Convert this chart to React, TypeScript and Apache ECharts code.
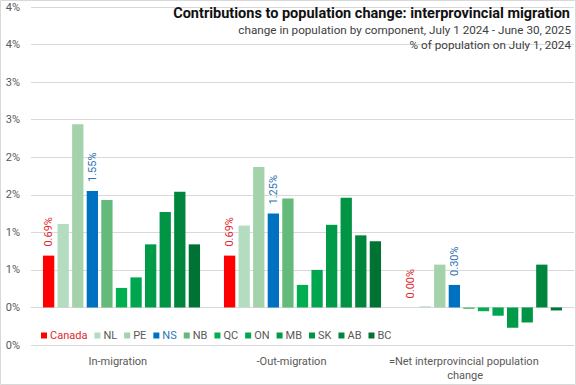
import React, { useEffect, useRef } from "react";
import * as echarts from "echarts";

const categories = ["In-migration", "-Out-migration", "=Net interprovincial population change"];
const seriesNames = ["Canada", "NL", "PE", "NS", "NB", "QC", "ON", "MB", "SK", "AB", "BC"];
const canada = [0.69, 0.69, 0.0];
const nl = [1.11, 1.09, 0.015];
const pe = [2.44, 1.87, 0.57];
const ns = [1.55, 1.25, 0.3];
const nb = [1.43, 1.45, -0.02];
const qc = [0.26, 0.3, -0.05];
const on = [0.4, 0.5, -0.11];
const mb = [0.84, 1.1, -0.27];
const sk = [1.27, 1.46, -0.2];
const ab = [1.54, 0.96, 0.57];
const bc = [0.84, 0.88, -0.04];
const seriesValues = [canada, nl, pe, ns, nb, qc, on, mb, sk, ab, bc];
const seriesColors = ["#FF0000", "#B4DCC0", "#A3D2AB", "#0070C0", "#63BA7A", "#00B050", "#00A64F", "#009B48", "#009444", "#00863C", "#007334"];
const labelledSeries = ["Canada", "NS"];
const labelColors: Record<string, string> = { Canada: "#E0282E", NS: "#2E74B5" };
const yTickValues = [-0.5, 0, 0.5, 1, 1.5, 2, 2.5, 3, 3.5, 4];
const yTickLabels = ["0%", "0%", "1%", "1%", "2%", "2%", "3%", "3%", "4%", "4%"];
const titleText = "Contributions to population change: interprovincial migration";
const subtitle1 = "change in population by component, July 1 2024 - June 30, 2025";
const subtitle2 = "% of population on July 1, 2024";

const FONT = "Roboto";

export default function App() {
  const ref = useRef<HTMLDivElement>(null);
  useEffect(() => {
    document.body.style.margin = "0";
    if (!ref.current) return;
    const chart = echarts.init(ref.current, null, { renderer: "svg" });
    const series = seriesNames.map((name, i) => ({
      name,
      type: "bar",
      xAxisIndex: 0,
      yAxisIndex: 0,
      data: seriesValues[i],
      barWidth: 11.3,
      barGap: "29%",
      itemStyle: { color: seriesColors[i] },
      label: labelledSeries.includes(name)
        ? {
            show: true,
            position: "top",
            rotate: 90,
            align: "left",
            verticalAlign: "middle",
            distance: 9,
            color: labelColors[name],
            fontFamily: FONT,
            fontSize: 11,
            formatter: (p: any) => Number(p.value).toFixed(2) + "%",
          }
        : { show: false },
    }));
    chart.setOption({
      animation: false,
      backgroundColor: "#fff",
      textStyle: { fontFamily: FONT },
      title: [
        { text: titleText, right: 6, top: 6, padding: 0, textStyle: { fontFamily: FONT, fontSize: 14.5, fontWeight: "bold", color: "#111" } },
        { text: subtitle1, right: 5, top: 24, padding: 0, textStyle: { fontFamily: FONT, fontSize: 11.7, fontWeight: "normal", color: "#404040" } },
        { text: subtitle2, right: 5, top: 39, padding: 0, textStyle: { fontFamily: FONT, fontSize: 11.7, fontWeight: "normal", color: "#404040" } },
      ],
      legend: {
        data: seriesNames.map((n) => ({
          name: n,
          textStyle: { color: labelColors[n] || "#595959" },
        })),
        left: 41,
        top: 330,
        icon: "rect",
        itemWidth: 6,
        itemHeight: 6,
        itemGap: 7,
        padding: 0,
        textStyle: { fontFamily: FONT, fontSize: 11, color: "#595959", padding: [0, 0, 0, -2] },
      },
      grid: [
        { left: 31, right: 2, top: 7, bottom: 40 },
        { left: 31, right: 24, top: 7, bottom: 40 },
      ],
      xAxis: [
        {
          type: "category",
          gridIndex: 0,
          data: categories,
          axisLine: { onZero: true, lineStyle: { color: "#d9d9d9" } },
          axisTick: { show: false },
          axisLabel: { show: false },
        },
        {
          type: "category",
          gridIndex: 1,
          data: categories,
          position: "bottom",
          axisLine: { show: false },
          axisTick: { show: false },
          axisLabel: {
            fontFamily: FONT,
            fontSize: 11,
            color: "#595959",
            margin: 9,
            lineHeight: 14,
            width: 160,
            overflow: "break",
            interval: 0,
          },
        },
      ],
      yAxis: [
        {
          type: "value",
          gridIndex: 0,
          min: -0.5,
          max: 4,
          interval: 0.5,
          axisLine: { show: false },
          axisTick: { show: false },
          splitLine: { lineStyle: { color: "#d9d9d9" } },
          axisLabel: {
            fontFamily: FONT,
            fontSize: 11,
            color: "#595959",
            margin: 11,
            formatter: (v: number) => {
              const idx = yTickValues.findIndex((t) => Math.abs(t - v) < 1e-9);
              return idx >= 0 ? yTickLabels[idx] : "";
            },
          },
        },
        {
          type: "value",
          gridIndex: 1,
          show: false,
          min: -0.5,
          max: 4,
        },
      ],
      graphic: [
        {
          type: "rect",
          silent: true,
          z: 100,
          shape: { x: 0.5, y: 0.5, width: 575, height: 384 },
          style: { fill: "none", stroke: "#d9d9d9", lineWidth: 1 },
        },
      ],
      series,
    });
    return () => chart.dispose();
  }, []);
  return <div ref={ref} style={{ width: 576, height: 385 }} />;
}
